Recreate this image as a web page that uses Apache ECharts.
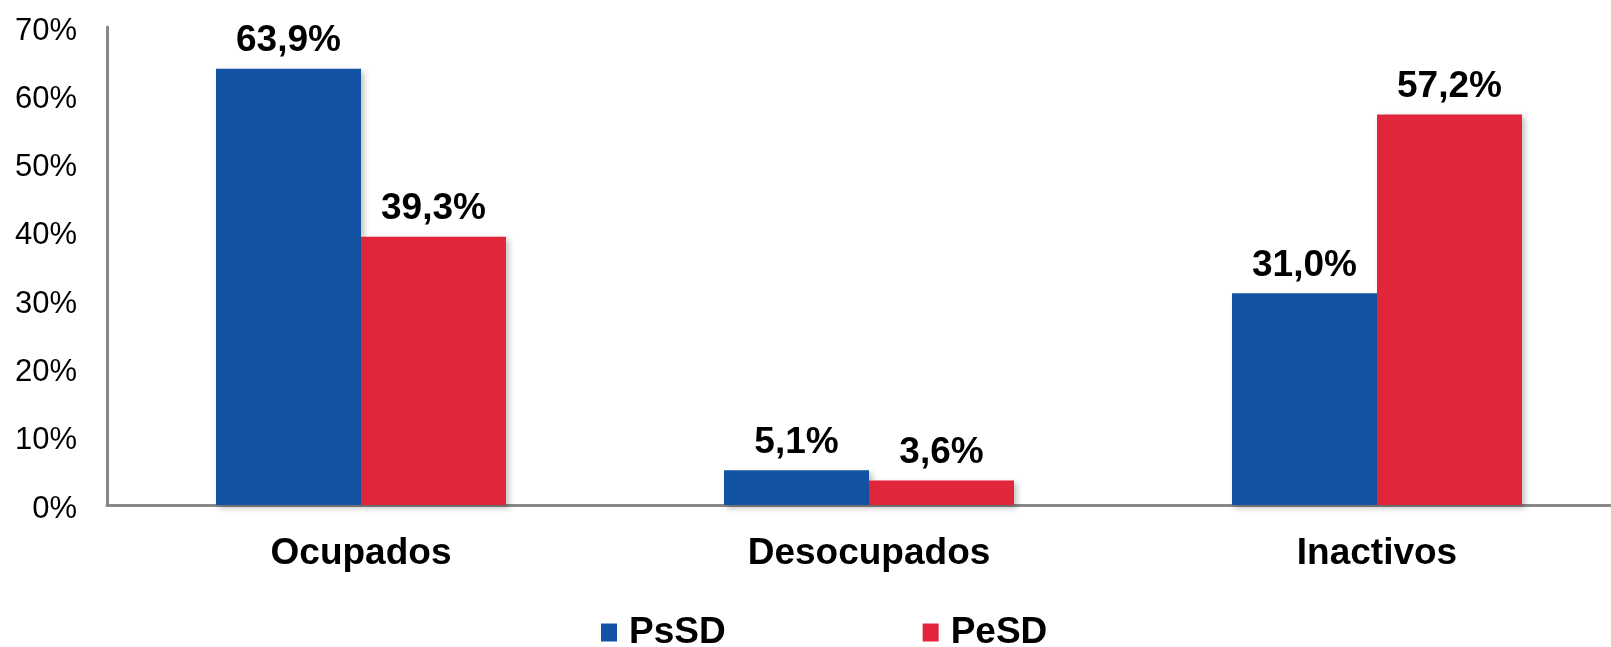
<!DOCTYPE html>
<html>
<head>
<meta charset="utf-8">
<script src="https://cdn.jsdelivr.net/npm/echarts@6/dist/echarts.min.js"></script>
<style>
    html, body { margin: 0; padding: 0; background: #fff; }
    #chart { width: 1611px; height: 647px; }
</style>
</head>
<body>
<div id="chart"></div>
<script>
const categories = ['Ocupados', 'Desocupados', 'Inactivos'];
const psSD = [63.9, 5.1, 31.0];
const peSD = [39.3, 3.6, 57.2];
const seriesNames = ['PsSD', 'PeSD'];

const FONT = '"Liberation Sans", Arial, sans-serif';

function pct(v) {
    return v.toFixed(1).replace('.', ',') + '%';
}

function barSeries(name, values, color) {
    return {
        name: name,
        type: 'bar',
        data: values,
        barWidth: 145,
        barGap: '0%',
        itemStyle: {
            color: color,
            shadowColor: 'rgba(0,0,0,0.25)',
            shadowBlur: 6,
            shadowOffsetX: 3,
            shadowOffsetY: 3
        },
        label: {
            show: true,
            position: 'top',
            distance: 9,
            formatter: p => pct(p.value),
            fontFamily: FONT,
            fontSize: 37,
            fontWeight: 'bold',
            color: '#000'
        }
    };
}

const chart = echarts.init(document.getElementById('chart'));
chart.setOption({
    animation: false,
    textStyle: { fontFamily: FONT },
    // plot area runs a bit past the right edge, like the original crop
    grid: { left: 107, width: 1524, top: 27, height: 478, containLabel: false, outerBoundsMode: 'none' },
    legend: {
        left: 601,
        top: 614,
        padding: 0,
        itemWidth: 16,
        itemHeight: 18,
        itemGap: 197,
        icon: 'rect',
        textStyle: { fontFamily: FONT, fontSize: 37, fontWeight: 'bold', color: '#000', padding: [0, 0, 0, 7] },
        data: seriesNames
    },
    xAxis: {
        type: 'category',
        data: categories,
        axisLine: { lineStyle: { color: '#888', width: 3 } },
        axisTick: { show: false },
        axisLabel: { margin: 30, fontFamily: FONT, fontSize: 37, fontWeight: 'bold', color: '#000' }
    },
    yAxis: {
        type: 'value',
        min: 0,
        max: 70,
        interval: 10,
        axisLine: { show: true, lineStyle: { color: '#888', width: 3 } },
        axisTick: { show: false },
        splitLine: { show: false },
        axisLabel: {
            margin: 30,
            color: '#000',
            formatter: v => '{t|' + v + '%}',
            rich: { t: { fontFamily: FONT, fontSize: 31, color: '#000', lineHeight: 39, verticalAlign: 'bottom' } }
        }
    },
    series: [
        barSeries(seriesNames[0], psSD, '#1254A3'),
        barSeries(seriesNames[1], peSD, '#E1253A')
    ]
});
</script>
</body>
</html>
